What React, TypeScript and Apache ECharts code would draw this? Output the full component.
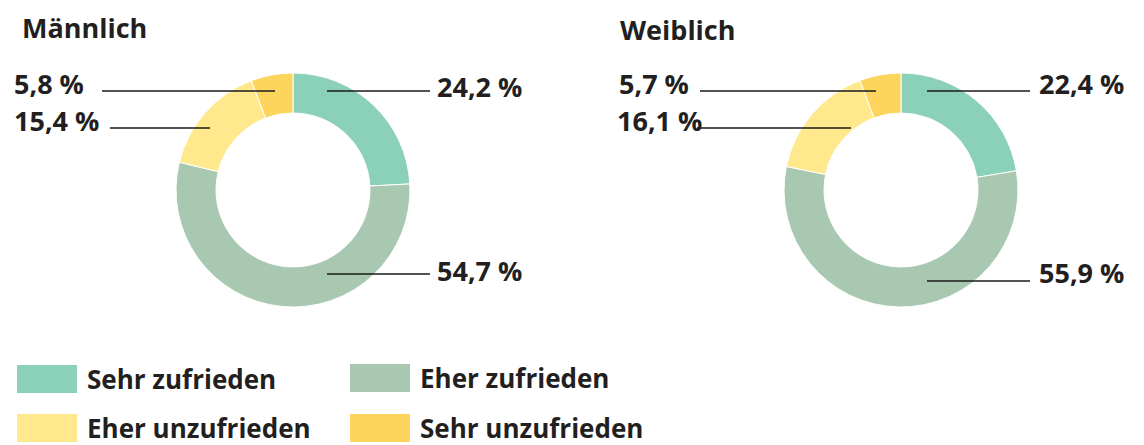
import React, { useEffect, useRef } from "react";
import * as echarts from "echarts";

const categories = ["Sehr zufrieden", "Eher zufrieden", "Eher unzufrieden", "Sehr unzufrieden"];
const maleValues = [24.2, 54.7, 15.4, 5.8];
const femaleValues = [22.4, 55.9, 16.1, 5.7];
const titles = ["Männlich", "Weiblich"];
const colors = ["#8bd0b8", "#a9c8b1", "#ffe98c", "#fdd55c"];

const FONT = "'Open Sans', 'Noto Sans', sans-serif";
const TEXT = "#231f20";

// label layout per chart: [labelX, labelY, lineStartX, lineEndX, lineY]
const maleLabelLayout = [
  [437, 86, 327, 430, 91],
  [437, 270, 327, 430, 274],
  [14, 120, 210, 110, 128],
  [14, 83, 275, 102, 91],
];
const femaleLabelLayout = [
  [1039, 83, 927, 1030, 91],
  [1039, 272, 927, 1030, 281],
  [617, 120, 851, 697, 128],
  [619, 83, 876, 700, 91],
];

const fmt = (v: number) => v.toFixed(1).replace(".", ",") + " %";

function makeRing(values: number[], center: number[]) {
  return {
    type: "pie",
    z: 2,
    center,
    radius: [77, 117],
    startAngle: 90,
    clockwise: true,
    itemStyle: { borderColor: "#ffffff", borderWidth: 1 },
    emphasis: { disabled: true },
    label: { show: false },
    labelLine: { show: false },
    data: values.map((v, i) => ({ name: categories[i], value: v, itemStyle: { color: colors[i] } })),
  };
}

function makeLabels(values: number[], center: number[], layout: number[][]) {
  return {
    type: "pie",
    z: 5,
    center,
    radius: [77, 117],
    startAngle: 90,
    clockwise: true,
    silent: true,
    avoidLabelOverlap: false,
    itemStyle: { color: "rgba(0,0,0,0)", borderWidth: 0 },
    emphasis: { disabled: true },
    label: {
      show: true,
      formatter: (p: any) => fmt(p.value),
      fontFamily: FONT,
      fontWeight: "bold",
      fontSize: 27,
      color: TEXT,
    },
    labelLine: {
      show: true,
      smooth: false,
      lineStyle: { color: "#1a1a1a", width: 1.5, opacity: 1 },
    },
    labelLayout: (p: any) => {
      const l = layout[p.dataIndex];
      const mid = (l[2] + l[3]) / 2;
      return {
        x: l[0],
        y: l[1],
        align: "left",
        verticalAlign: "middle",
        labelLinePoints: [
          [l[2], l[4]],
          [mid, l[4]],
          [l[3], l[4]],
        ],
      };
    },
    data: values.map((v, i) => ({
      name: categories[i],
      value: v,
      itemStyle: { color: "rgba(0,0,0,0)" },
    })),
  };
}

const legendPos = [
  [15, 363],
  [348, 362],
  [15, 412],
  [348, 412],
];

export default function App() {
  const ref = useRef<HTMLDivElement>(null);
  useEffect(() => {
    const chart = echarts.init(ref.current!, null, { renderer: "svg" });
    chart.setOption({
      animation: false,
      title: [
        {
          text: titles[0],
          left: 17,
          top: 9,
          textStyle: { fontFamily: FONT, fontWeight: "bold", fontSize: 27, color: TEXT },
        },
        {
          text: titles[1],
          left: 615,
          top: 11,
          textStyle: { fontFamily: FONT, fontWeight: "bold", fontSize: 27, color: TEXT },
        },
      ],
      legend: categories.map((c, i) => ({
        data: [c],
        left: legendPos[i][0],
        top: legendPos[i][1],
        padding: 0,
        icon: "rect",
        itemWidth: 62,
        itemHeight: 30,
        selectedMode: false,
        textStyle: {
          fontFamily: FONT,
          fontWeight: "bold",
          fontSize: 26,
          lineHeight: 28,
          color: TEXT,
          padding: [0, 0, 0, 4],
        },
      })),
      series: [
        makeRing(maleValues, [293, 190]),
        makeRing(femaleValues, [901, 190]),
        makeLabels(maleValues, [293, 190], maleLabelLayout),
        makeLabels(femaleValues, [901, 190], femaleLabelLayout),
      ],
    });
    return () => chart.dispose();
  }, []);
  return (
    <div
      ref={ref}
      style={{ position: "absolute", left: 0, top: 0, width: 1144, height: 445 }}
    />
  );
}
